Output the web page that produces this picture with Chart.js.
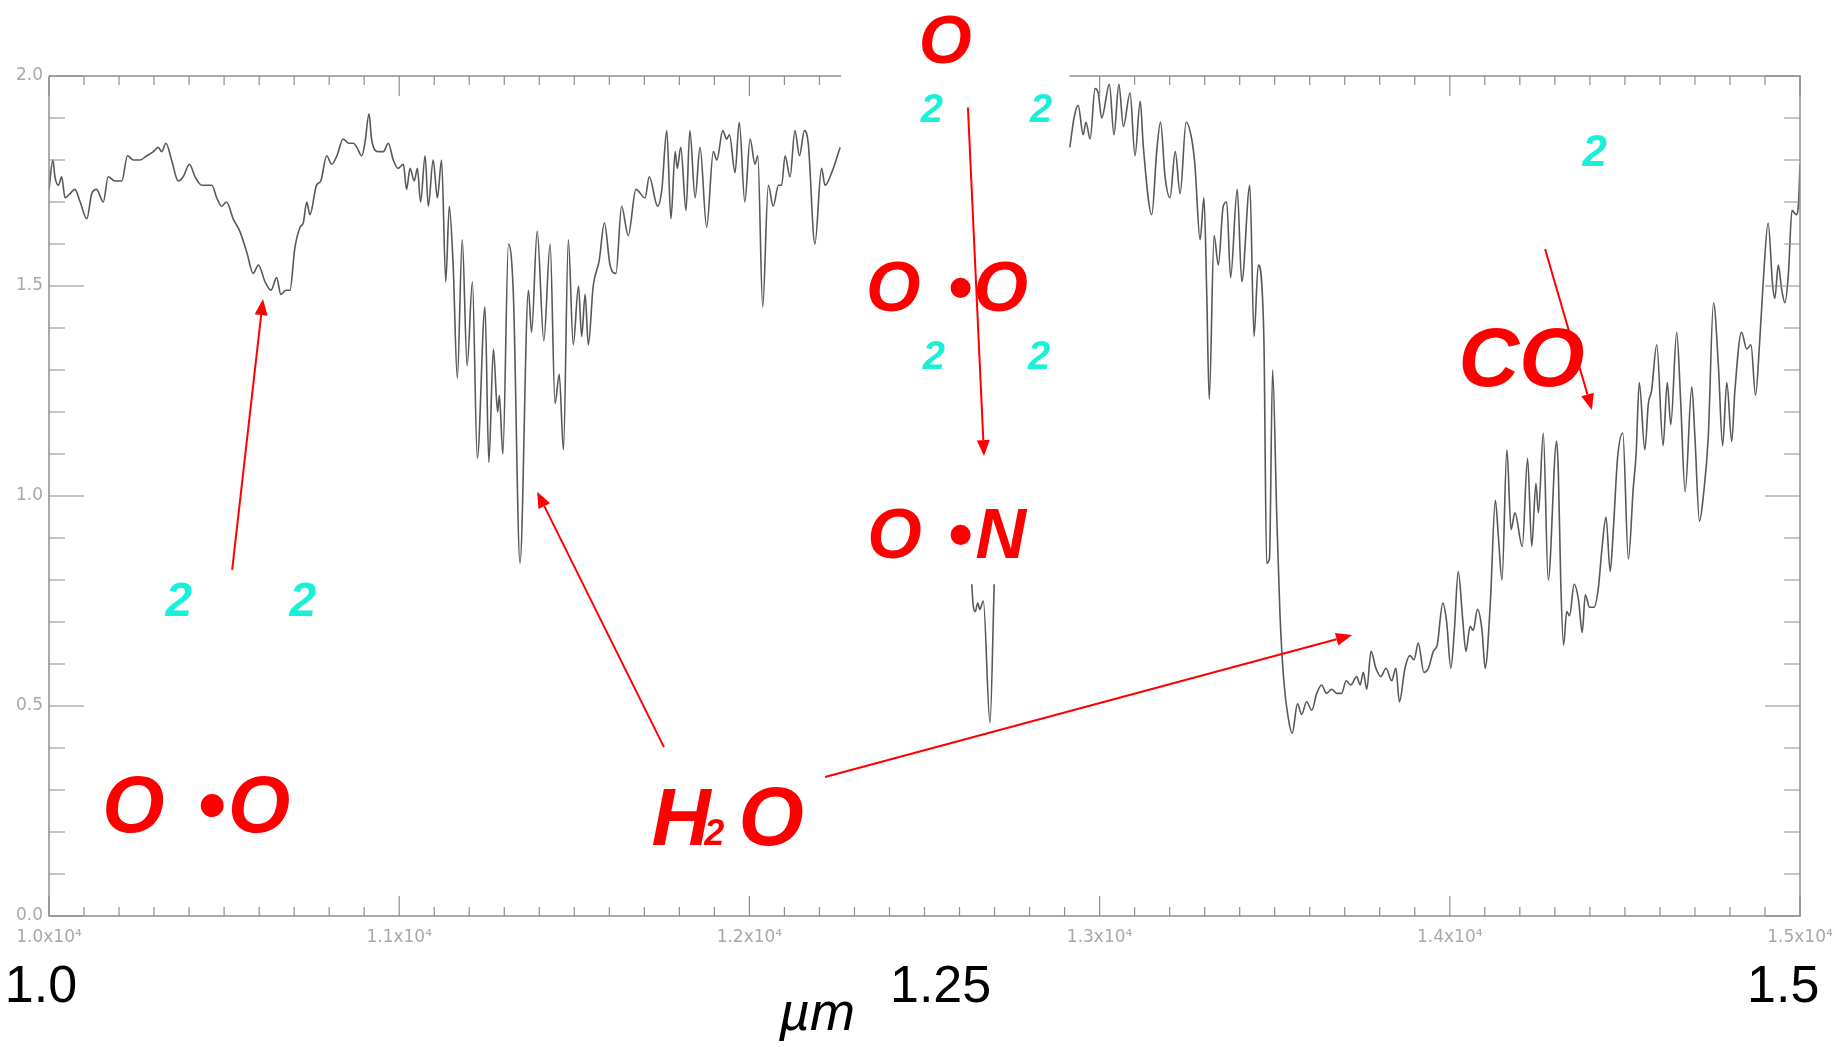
<!DOCTYPE html>
<html>
<head>
<meta charset="utf-8">
<script src="https://cdn.jsdelivr.net/npm/chart.js@4/dist/chart.umd.min.js"></script>
<style>
  html, body { margin: 0; padding: 0; background: #ffffff; overflow: hidden; }
  #wrap { width: 1835px; height: 1047px; position: relative; }
  #c { display: block; }
</style>
</head>
<body>
<div id="wrap"><canvas id="c"></canvas></div>
<script>
// ---------------- DATA (wavelength in Angstrom, relative flux) ----------------
const wavelength = [
  10000,10011,10017,10027,10036,10046,10060,10074,10089,10108,10122,10136,10155,10169,10188,10208,10224,10241,10260,10279,
  10298,10312,10322,10334,10350,10369,10383,10401,10417,10436,10465,10479,10493,10507,10526,10545,10565,10583,10598,10617,
  10634,10650,10662,10677,10688,10702,10717,10726,10736,10745,
  10764,10776,10793,10807,10822,10840,10855,10869,10879,10893,10902,10914,10921,10940,10955,10969,10983,10997,11012,11021,
  11031,11043,11052,11061,11074,11083,11097,11109,11121,11133,11143,11154,11166,11180,11194,11209,11223,11245,11256,11269,
  11281,11286,11296,11312,11326,11345,11369,11378,11394,11413,11431,11445,11457,11469,11483,
  11497,11512,11521,11531,11540,11554,11571,11586,11602,11619,11635,11654,11676,11702,11714,11738,11750,11764,11776,11788,
  11794,11804,11819,11830,11845,11859,11878,11897,11907,11924,11935,11943,11959,11971,11987,12002,12016,12024,12038,12054,
  12068,12083,12092,12102,12116,12130,12143,12157,12168,12187,12206,12216,12235,12259,
  12400,
  12635,12639,12645,12652,12658,12668,12687,12699,
  12800,
  12915,12927,12939,12953,12961,12973,12987,12996,13006,13028,13041,13055,13068,13087,13101,13116,13125,13149,13163,13174,
  13187,13201,13216,13230,13247,13263,13272,13287,13298,13306,13313,13327,13339,13353,13363,13374,13393,13406,13429,13441,
  13453,13469,13477,13485,13494,13506,13515,13526,13539,13550,13565,13577,13591,13606,13620,13634,13648,
  13663,13677,13691,13704,13717,13734,13744,13753,13763,13775,13789,13803,13818,13834,13846,13856,13872,13886,13898,13910,
  13926,13939,13953,13964,13980,13991,14003,14013,14024,14037,14046,14058,14067,14079,14092,14101,14116,14130,14139,14149,
  14163,14175,14186,14207,14222,14234,14246,14253,14267,14281,14305,
  14310,14317,14325,14334,14342,14355,14368,14378,14387,14399,14412,14424,14434,14446,14458,14467,14479,14494,14510,14524,
  14532,14541,14557,14567,14576,14591,14609,14621,14631,14648,14659,14672,14691,14700,14713,14724,14738,14753,14767,14779,
  14791,14805,14814,14833,14848,14860,14873,14885,14895,14909,14922,14928,14938,14948,14957,14967,14977,14989,14996,15000
];
const flux = [
  1.73,1.80,1.76,1.74,1.76,1.71,1.72,1.73,1.70,1.66,1.72,1.73,1.70,1.76,1.75,1.75,1.81,1.80,1.80,1.81,
  1.82,1.83,1.82,1.84,1.80,1.75,1.76,1.79,1.76,1.74,1.74,1.71,1.69,1.70,1.66,1.63,1.58,1.53,1.55,1.51,
  1.49,1.52,1.48,1.49,1.49,1.59,1.64,1.65,1.70,1.67,
  1.74,1.75,1.81,1.79,1.81,1.85,1.84,1.84,1.83,1.81,1.84,1.91,1.85,1.82,1.82,1.84,1.80,1.78,1.79,1.73,
  1.78,1.75,1.78,1.70,1.81,1.69,1.80,1.71,1.80,1.51,1.69,1.55,1.28,1.61,1.31,1.51,1.09,1.45,1.08,1.35,
  1.20,1.24,1.10,1.60,1.48,0.84,1.49,1.39,1.63,1.37,1.60,1.22,1.29,1.11,1.61,
  1.36,1.50,1.38,1.48,1.36,1.50,1.56,1.65,1.55,1.53,1.69,1.62,1.73,1.71,1.76,1.69,1.73,1.87,1.66,1.82,
  1.78,1.83,1.68,1.87,1.71,1.83,1.64,1.82,1.80,1.87,1.85,1.86,1.77,1.89,1.70,1.85,1.79,1.81,1.45,1.74,
  1.69,1.74,1.74,1.81,1.76,1.87,1.81,1.87,1.84,1.60,1.78,1.74,1.77,1.83,
  null,
  0.79,0.74,0.725,0.745,0.73,0.75,0.46,0.79,
  null,
  1.83,1.90,1.93,1.86,1.89,1.85,1.97,1.96,1.90,1.98,1.86,1.98,1.88,1.96,1.81,1.94,1.83,1.67,1.82,1.89,
  1.76,1.71,1.82,1.72,1.89,1.85,1.79,1.61,1.71,1.48,1.23,1.62,1.55,1.69,1.70,1.52,1.73,1.51,1.74,1.38,
  1.55,1.38,0.84,0.85,1.30,0.95,0.72,0.56,0.47,0.435,0.505,0.48,0.51,0.49,0.53,0.55,0.53,
  0.54,0.53,0.53,0.56,0.55,0.57,0.55,0.58,0.54,0.63,0.59,0.57,0.59,0.56,0.59,0.51,0.59,0.62,0.61,0.65,
  0.58,0.59,0.63,0.645,0.745,0.70,0.59,0.68,0.82,0.705,0.63,0.69,0.68,0.73,0.68,0.59,0.75,0.99,0.90,0.80,
  1.11,0.92,0.96,0.88,1.09,0.88,1.03,0.96,1.15,0.80,1.13,
  1.055,0.79,0.645,0.725,0.715,0.79,0.75,0.675,0.765,0.735,0.735,0.78,0.87,0.95,0.82,0.92,1.09,1.15,0.85,1.02,
  1.10,1.27,1.11,1.22,1.25,1.36,1.12,1.27,1.17,1.39,1.23,1.01,1.26,1.14,0.94,1.00,1.14,1.46,1.31,1.12,
  1.27,1.13,1.25,1.39,1.35,1.36,1.24,1.37,1.51,1.65,1.50,1.47,1.55,1.49,1.46,1.53,1.68,1.67,1.70,1.79
];
const xRange = [10000, 15000];
const yRange = [0, 2.0];
// wavelength span hidden behind the label box in the original figure
const hiddenSpan = [12262, 12914];

// ---------------- ANNOTATIONS (in data units: wavelength, flux) ----------------
const arrows = [
  [10523, 0.824, 10611, 1.469],
  [11756, 0.402, 11394, 1.010],
  [12216, 0.331, 13721, 0.669],
  [12624, 1.925, 12670, 1.095],
  [14272, 1.588, 14406, 1.205]
];
const redLabels = [
  ['O', 12559, 2.031, 68],
  ['O', 12411, 1.440, 70], ['\u2022', 12601, 1.440, 70], ['O', 12718, 1.440, 70],
  ['O', 12414, 0.852, 70], ['\u2022', 12601, 0.852, 70], ['N', 12718, 0.852, 70],
  ['O', 10241, 0.200, 80], ['\u2022', 10463, 0.200, 80], ['O', 10600, 0.200, 80],
  ['H', 11805, 0.169, 82], ['2', 11900, 0.169, 36], ['O', 12062, 0.169, 84],
  ['CO', 14205, 1.262, 84]
];
const cyanLabels = [
  ['2', 10371, 0.714, 48], ['2', 10725, 0.714, 48],
  ['2', 12521, 1.890, 40], ['2', 12833, 1.890, 40],
  ['2', 12527, 1.302, 40], ['2', 12827, 1.302, 40],
  ['2', 14414, 1.786, 44]
];
const axisTexts = [
  ['1.0', 9977, -0.205, 'normal'],
  ['1.25', 12546, -0.205, 'normal'],
  ['1.5', 14952, -0.205, 'normal'],
  ['\u00B5m', 12193, -0.271, 'italic']
];

// ---------------- CHART ----------------
const points = wavelength.map((w, i) => ({ x: w, y: flux[i] }));

const decor = {
  id: 'decor',
  afterDraw(chart) {
    const { ctx, chartArea: ca, scales: { x, y } } = chart;
    const px = v => x.getPixelForValue(v);
    const py = v => y.getPixelForValue(v);
    ctx.save();
    // frame
    ctx.strokeStyle = '#8e8e8e';
    ctx.lineWidth = 1.5;
    ctx.beginPath();
    ctx.moveTo(ca.left, ca.top); ctx.lineTo(px(hiddenSpan[0]), ca.top);
    ctx.moveTo(px(hiddenSpan[1]), ca.top); ctx.lineTo(ca.right, ca.top);
    ctx.lineTo(ca.right, ca.bottom); ctx.lineTo(ca.left, ca.bottom); ctx.lineTo(ca.left, ca.top);
    ctx.stroke();
    // inward tick marks
    ctx.lineWidth = 1.2;
    ctx.beginPath();
    for (let w = xRange[0]; w <= xRange[1]; w += 100) {
      const major = w % 1000 === 0;
      const len = major ? 20 : 9;
      const X = px(w);
      ctx.moveTo(X, ca.bottom); ctx.lineTo(X, ca.bottom - len);
      if (w < hiddenSpan[0] || w > hiddenSpan[1]) {
        ctx.moveTo(X, ca.top); ctx.lineTo(X, ca.top + len);
      }
    }
    for (let k = 0; k <= 20; k++) {
      const major = k % 5 === 0;
      const len = major ? 35 : 16;
      const Y = py(k / 10);
      ctx.moveTo(ca.left, Y); ctx.lineTo(ca.left + len, Y);
      ctx.moveTo(ca.right, Y); ctx.lineTo(ca.right - len, Y);
    }
    ctx.stroke();

    // arrows
    ctx.strokeStyle = '#ff0000';
    ctx.fillStyle = '#ff0000';
    ctx.lineWidth = 2;
    arrows.forEach(([w0, v0, w1, v1]) => {
      const x0 = px(w0), y0 = py(v0), x1 = px(w1), y1 = py(v1);
      const ang = Math.atan2(y1 - y0, x1 - x0);
      const L = 16, H = 6.5;
      const bx = x1 - L * Math.cos(ang), by = y1 - L * Math.sin(ang);
      ctx.beginPath(); ctx.moveTo(x0, y0); ctx.lineTo(bx, by); ctx.stroke();
      ctx.beginPath();
      ctx.moveTo(x1, y1);
      ctx.lineTo(bx + H * Math.sin(ang), by - H * Math.cos(ang));
      ctx.lineTo(bx - H * Math.sin(ang), by + H * Math.cos(ang));
      ctx.closePath(); ctx.fill();
    });

    // texts
    ctx.textAlign = 'center';
    ctx.textBaseline = 'alphabetic';
    ctx.fillStyle = '#ff0000';
    redLabels.forEach(([t, w, v, s]) => {
      ctx.font = `italic bold ${s}px "Liberation Sans", Arial, sans-serif`;
      ctx.fillText(t, px(w), py(v));
    });
    ctx.fillStyle = '#19f0da';
    cyanLabels.forEach(([t, w, v, s]) => {
      ctx.font = `italic bold ${s}px "Liberation Sans", Arial, sans-serif`;
      ctx.fillText(t, px(w), py(v));
    });
    ctx.fillStyle = '#000000';
    axisTexts.forEach(([t, w, v, st]) => {
      ctx.font = `${st} ${st === 'italic' ? 54 : 52}px "Liberation Sans", Arial, sans-serif`;
      ctx.fillText(t, px(w), py(v));
    });
    ctx.restore();
  }
};

new Chart(document.getElementById('c'), {
  type: 'line',
  data: {
    datasets: [{
      data: points,
      borderColor: '#585858',
      borderWidth: 1.6,
      pointRadius: 0,
      spanGaps: false,
      cubicInterpolationMode: 'monotone',
      fill: false
    }]
  },
  options: {
    responsive: true,
    maintainAspectRatio: false,
    animation: false,
    devicePixelRatio: 1,
    layout: { padding: { left: 0, top: 76, right: 35, bottom: 91 } },
    plugins: { legend: { display: false }, tooltip: { enabled: false } },
    scales: {
      x: {
        type: 'linear',
        min: xRange[0], max: xRange[1],
        grid: { display: false, drawTicks: false },
        border: { display: false },
        afterFit: s => { s.height = 40; s.paddingLeft = 0; s.paddingRight = 0; },
        ticks: {
          stepSize: 1000,
          autoSkip: false,
          maxRotation: 0,
          padding: 11,
          color: '#a8a8a8',
          font: { family: '"DejaVu Sans", sans-serif', size: 17 },
          callback: v => (v / 10000).toFixed(1) + 'x10\u2074'
        }
      },
      y: {
        min: yRange[0], max: yRange[1],
        grid: { display: false, drawTicks: false },
        border: { display: false },
        afterFit: s => { s.width = 49; s.paddingTop = 0; s.paddingBottom = 0; },
        ticks: {
          stepSize: 0.5,
          padding: 6,
          color: '#a8a8a8',
          font: { family: '"DejaVu Sans", sans-serif', size: 17 },
          callback: v => Number(v).toFixed(1)
        }
      }
    }
  },
  plugins: [decor]
});
</script>
</body>
</html>
